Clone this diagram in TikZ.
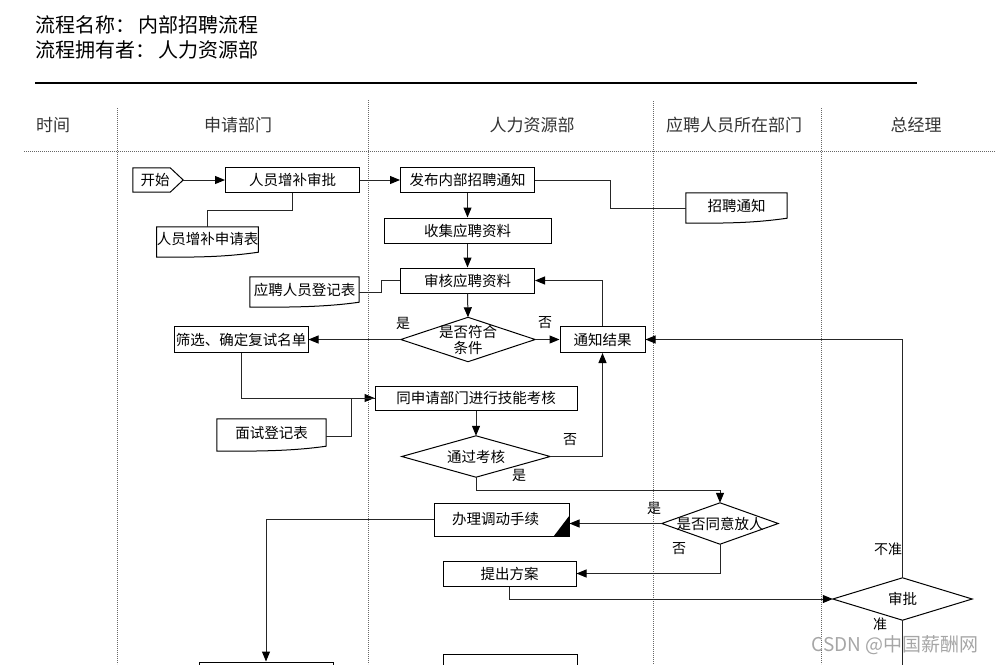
\documentclass[tikz,border=0pt]{standalone}
\usepackage{fontspec}
\newfontfamily\cjk{Noto Sans CJK SC}
\usetikzlibrary{arrows.meta,calc}
\newcommand\mydocshape[1]{\draw[line width=1pt,black] (#1.north west) -- (#1.north east) -- (#1.south east) .. controls +(-35,5) and +(40,0) .. ($(#1.south west)+(0,5)$) -- cycle;}
\newcommand\mydiamond[1]{\draw[line width=1pt,black] (#1.north) -- (#1.east) -- (#1.south) -- (#1.west) -- cycle;}
\begin{document}
\begin{tikzpicture}[x=1pt,y=-1pt,
  box/.style={draw=black,line width=1pt,fill=white,inner sep=0pt,font=\cjk\fontsize{14.5}{16}\selectfont,align=center},
  ghost/.style={inner sep=0pt,font=\cjk\fontsize{14.5}{16}\selectfont,align=center},
  conn/.style={draw=black!85,line width=1pt},
  arr/.style={conn,-{Triangle[length=10pt,width=8pt,color=black]}},
  lbl/.style={font=\cjk\fontsize{14}{16}\selectfont,inner sep=0pt},
  hdr/.style={font=\cjk\fontsize{17}{20}\selectfont,text=black!80,inner sep=0pt},
  ttl/.style={font=\cjk\fontsize{20}{24}\selectfont,inner sep=0pt,anchor=west},
  dotline/.style={draw=black!60,line width=0.8pt,dash pattern=on 0.8pt off 1.2pt},
]
\useasboundingbox (0,0) rectangle (995,664);
\clip (0,0) rectangle (995,664);

% title
\node[ttl] (t1) at (35,25) {流程名称：\hspace{3pt}内部招聘流程};
\node[ttl] (t2) at (35,50) {流程拥有者：\hspace{3pt}人力资源部};
\draw[line width=2.5pt] (35,83) -- (588,83);
\draw[line width=1.2pt] (588,83) -- (917,83);

% header
\node[hdr,anchor=west] (hTime) at (36,125) {时间};
\node[hdr] (hA) at (238,125) {申请部门};
\node[hdr] (hB) at (532,125) {人力资源部};
\node[hdr] (hC) at (734,125) {应聘人员所在部门};
\node[hdr] (hD) at (916,125) {总经理};

% swimlane dotted lines
\draw[dotline] (24,151) -- (995,151);
\draw[dotline] (117,108) -- (117,664);
\draw[dotline] (368,100) -- (368,664);
\draw[dotline] (653,101) -- (653,664);
\draw[dotline] (821,108) -- (821,664);

% nodes
\node[ghost,minimum width=50pt,minimum height=24pt] (start) at (158,180) {\hspace*{-6pt}开始};
\draw[line width=1pt] (start.north west) -- ($(start.north east)+(-13,0)$) -- (start.east) -- ($(start.south east)+(-13,0)$) -- (start.south west) -- cycle;

\node[box,minimum width=134pt,minimum height=25pt] (p1) at (292.5,180) {人员增补审批};
\node[box,minimum width=134pt,minimum height=25pt] (h1) at (467.5,180) {发布内部招聘通知};
\node[box,minimum width=167pt,minimum height=25pt] (h2) at (467.5,230.5) {收集应聘资料};
\node[box,minimum width=134pt,minimum height=25pt] (h3) at (467.5,280.5) {审核应聘资料};

\node[ghost,minimum width=134pt,minimum height=44pt] (d1) at (468,339.5) {是否符合\\条件};
\mydiamond{d1}

\node[box,minimum width=134pt,minimum height=26pt] (p2) at (241,339.5) {筛选、确定复试名单};
\node[box,minimum width=85pt,minimum height=26pt] (h4) at (602.5,339.5) {通知结果};
\node[box,minimum width=202pt,minimum height=24pt] (h5) at (476,398) {同申请部门进行技能考核};

\node[ghost,minimum width=148pt,minimum height=41pt] (d2) at (476,456.5) {通过考核};
\mydiamond{d2}
\node[ghost,minimum width=116pt,minimum height=41pt] (d3) at (720,523.5) {是否同意放人};
\mydiamond{d3}

\node[box,minimum width=135pt,minimum height=33pt] (h6) at (501.5,519.5) {\hspace*{-12pt}办理调动手续};
\fill[black] (h6.south east) -- ++(-16,0) -- ($(h6.south east)+(0,-21)$) -- cycle;
\node[box,minimum width=133pt,minimum height=25pt] (h7) at (509.5,573.5) {提出方案};

\node[ghost,minimum width=139pt,minimum height=42pt] (g1) at (902.5,599) {审批};
\mydiamond{g1}

\node[box,minimum width=134pt,minimum height=25pt] (b1) at (266,674.5) {};
\node[box,minimum width=134pt,minimum height=25pt] (b2) at (510,666.5) {};

% documents
\node[ghost,minimum width=101pt,minimum height=25pt] (doc1) at (207.5,239.5) {人员增补申请表};
\mydocshape{doc1}
\node[ghost,minimum width=101pt,minimum height=25pt] (doc2) at (736.5,205.5) {招聘通知};
\mydocshape{doc2}
\node[ghost,minimum width=109pt,minimum height=25pt] (doc3) at (304.5,289.5) {应聘人员登记表};
\mydocshape{doc3}
\node[ghost,minimum width=109pt,minimum height=27pt] (doc4) at (271.5,432.5) {面试登记表};
\mydocshape{doc4}

% connectors
\draw[arr] (start.east) -- (p1.west);
\draw[arr] (p1.east) -- (h1.west);
\draw[conn] (p1.south) -- ++(0,17) -| (doc1.north);
\draw[conn] (h1.east) -- ++(75,0) |- ($(doc2.west)+(0,3)$);
\draw[arr] (h1.south) -- (h2.north);
\draw[arr] (h2.south) -- (h3.north);
\draw[arr] (h3.south) -- (d1.north);
\draw[conn] ($(doc3.east)+(0,3)$) -- ++(22,0) |- (h3.west);
\draw[arr] (d1.west) -- (p2.east);
\draw[arr] (d1.east) -- (h4.west);
\draw[arr] (h4.north) |- (h3.east);
\draw[arr] (p2.south) |- (h5.west);
\draw[conn] ($(doc4.east)+(0,3.5)$) -- ++(25,0) |- (h5.west);
\draw[arr] (h5.south) -- (d2.north);
\draw[arr] (d2.east) -| (h4.south);
\draw[arr] (d2.south) -- ++(0,13.5) -| (d3.north);
\draw[arr] (d3.west) -- (d3.west -| h6.east);
\draw[arr] (h6.west) -| (b1.north);
\draw[arr] (d3.south) |- (h7.east);
\draw[arr] (h7.south) |- (g1.west);
\draw[arr] (g1.north) |- (h4.east);
\draw[conn] (g1.south) -- ++(0,50);

% labels
\node[lbl] (l1) at (403,323) {是};
\node[lbl] (l2) at (545,323) {否};
\node[lbl] (l3) at (570,440) {否};
\node[lbl] (l4) at (519,475) {是};
\node[lbl] (l5) at (654,508) {是};
\node[lbl] (l6) at (679,549) {否};
\node[lbl] (l7) at (888,549) {不准};
\node[lbl] (l8) at (880,624) {准};

% watermark
\node[font=\cjk\fontsize{19}{22}\selectfont,text=black!35,inner sep=0pt] (wm) at (895,645) {CSDN @中国薪酬网};
\end{tikzpicture}
\end{document}
